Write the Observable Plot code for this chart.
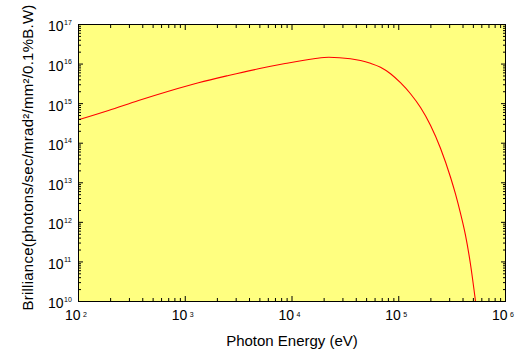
<!DOCTYPE html>
<html><head><meta charset="utf-8">
<script src="https://cdn.jsdelivr.net/npm/d3@7"></script>
<script src="https://cdn.jsdelivr.net/npm/@observablehq/plot@0.6"></script>
<style>html,body{margin:0;padding:0;background:#fff}#chart svg{display:block}</style>
</head><body><div id="chart"></div>
<script>
// Photon energy (eV) and brilliance
const energy = [100, 191, 365, 697, 1330, 2541, 4853, 8375, 16000, 22130, 35300, 43850, 54330, 67450, 83750, 103750, 128800, 160000, 198200, 246000, 305500, 340400, 378400, 421700, 469900, 523600];
const brilliance = [3.91e14, 6.71e14, 1.20e15, 2.06e15, 3.37e15, 5.14e15, 7.59e15, 1.016e16, 1.36e16, 1.49e16, 1.36e16, 1.23e16, 1.045e16, 8.34e15, 5.71e15, 3.38e15, 1.78e15, 7.98e14, 2.85e14, 7.48e13, 1.38e13, 5.14e12, 1.70e12, 4.73e11, 8.75e10, 1.02e10];

const xTickExponents = [2, 3, 4, 5, 6];
const yTickExponents = [10, 11, 12, 13, 14, 15, 16, 17];
const minorMultipliers = [2, 3, 4, 5, 6, 7, 8, 9];
const tickBase = "10";
const xLabel = "Photon Energy (eV)";
const yLabel = "Brilliance(photons/sec/mrad²/mm²/0.1%B.W)";

const data = energy.map((e, i) => ({energy: e, brilliance: brilliance[i]}));
const xMajor = xTickExponents.map(e => 10 ** e);
const yMajor = yTickExponents.map(e => 10 ** e);
const xMinor = xTickExponents.slice(0, -1).flatMap(e => minorMultipliers.map(m => m * 10 ** e));
const yMinor = yTickExponents.slice(0, -1).flatMap(e => minorMultipliers.map(m => m * 10 ** e));

const font = "'Liberation Sans', Arial, sans-serif";
const tickFont = "'Liberation Sans Narrow', 'Liberation Sans', Arial, sans-serif";
const noText = () => "";

function inwardAxes(ticks, size) {
  return [
    Plot.axisX({anchor: "bottom", ticks, tickSize: -size, tickFormat: noText, label: null}),
    Plot.axisX({anchor: "top", ticks, tickSize: -size, tickFormat: noText, label: null})
  ];
}
function inwardAxesY(ticks, size) {
  return [
    Plot.axisY({anchor: "left", ticks, tickSize: -size, tickFormat: noText, label: null}),
    Plot.axisY({anchor: "right", ticks, tickSize: -size, tickFormat: noText, label: null})
  ];
}

const plot = Plot.plot({
  width: 529, height: 359,
  marginLeft: 78, marginRight: 24, marginTop: 24, marginBottom: 58,
  style: {fontFamily: font, background: "#fff", color: "#000", overflow: "visible"},
  x: {type: "log", domain: [1e2, 1e6]},
  y: {type: "log", domain: [1e10, 1e17]},
  marks: [
    Plot.frame({fill: "#ffff00"}),
    Plot.line(data, {x: "energy", y: "brilliance", stroke: "#ff0000", strokeWidth: 1.1, curve: "monotone-x", clip: true}),
    ...inwardAxes(xMajor, 5),
    ...inwardAxes(xMinor, 3),
    ...inwardAxesY(yMajor, 5),
    ...inwardAxesY(yMinor, 3),
    Plot.frame({stroke: "#000", strokeWidth: 1}),
    // y tick labels: "10" with superscript exponent
    Plot.text(yTickExponents, {y: e => 10 ** e, text: () => tickBase, frameAnchor: "left", textAnchor: "end", dx: -15, dy: 2.5, fontSize: 14, fontFamily: tickFont}),
    Plot.text(yTickExponents, {y: e => 10 ** e, text: e => `${e}`, frameAnchor: "left", textAnchor: "start", dx: -14.5, dy: -2, fontSize: 7, fontFamily: font}),
    // x tick labels
    Plot.text(xTickExponents, {x: e => 10 ** e, text: () => tickBase, frameAnchor: "bottom", textAnchor: "end", dx: 2, dy: 18, fontSize: 14, fontFamily: tickFont}),
    Plot.text(xTickExponents, {x: e => 10 ** e, text: e => `${e}`, frameAnchor: "bottom", textAnchor: "start", dx: 4.5, dy: 15, fontSize: 7, fontFamily: font}),
    // axis titles
    Plot.text([xLabel], {frameAnchor: "bottom", textAnchor: "middle", dy: 44.2, fontSize: 15, fontFamily: font}),
    Plot.text([yLabel], {frameAnchor: "left", textAnchor: "middle", rotate: -90, dx: -50.8, dy: -5.5, fontSize: 15, fontFamily: font, className: "ylab"})
  ]
});

// yellow/white checker fill for the plot area
const ns = "http://www.w3.org/2000/svg";
const defs = document.createElementNS(ns, "defs");
defs.innerHTML = '<pattern id="chk" width="2" height="2" patternUnits="userSpaceOnUse"><rect width="2" height="2" fill="#ffffff"/><rect width="1" height="1" fill="#ffff00"/><rect x="1" y="1" width="1" height="1" fill="#ffff00"/></pattern>';
plot.insertBefore(defs, plot.firstChild);
const fr = plot.querySelector('[aria-label="frame"]');
const rect = fr.tagName.toLowerCase() === "rect" ? fr : fr.querySelector("rect");
rect.setAttribute("fill", "url(#chk)");
plot.querySelectorAll(".ylab text").forEach(t => t.setAttribute("letter-spacing", "0.25"));

document.getElementById("chart").appendChild(plot);
</script></body></html>
